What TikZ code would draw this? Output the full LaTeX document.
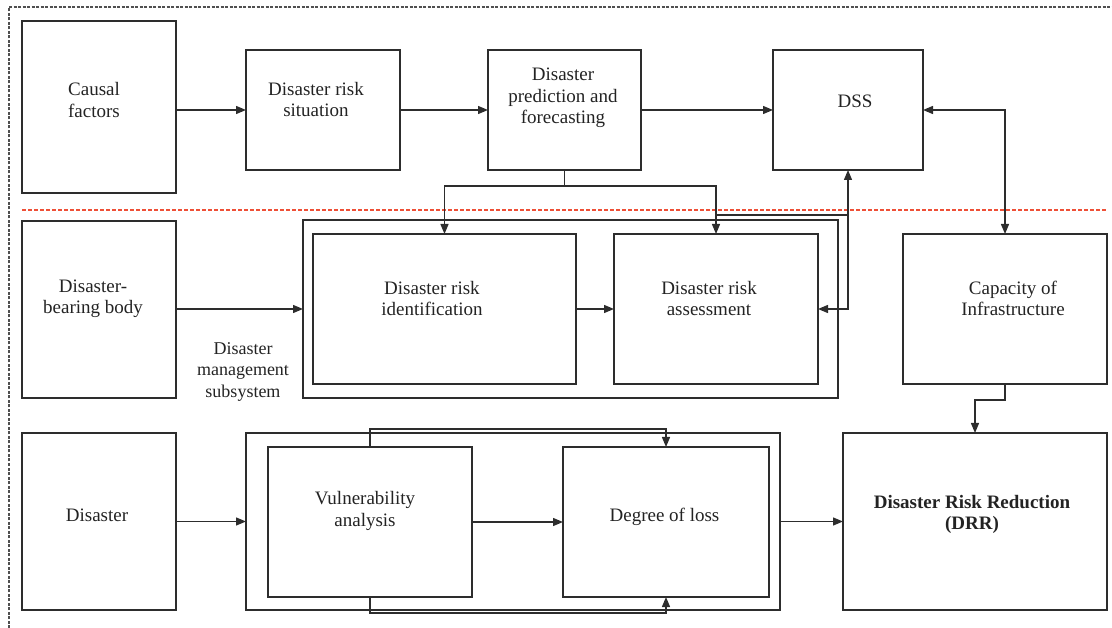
\documentclass[tikz,border=0pt]{standalone}
\usepackage{fontspec}
\setmainfont{Liberation Serif}
\usetikzlibrary{arrows.meta,calc}
\definecolor{LineGray}{RGB}{45,45,45}
\definecolor{FrameGray}{RGB}{80,80,80}
\definecolor{CutRed}{RGB}{238,80,55}
\definecolor{TextDark}{RGB}{35,35,35}
\tikzset{
  box/.style={draw=LineGray, line width=1.2pt, inner sep=0pt, outer sep=0pt},
  txt/.style={text=TextDark, align=center, inner sep=0pt, font=\fontsize{19}{21.5}\selectfont},
  link/.style={draw=LineGray, line width=1.3pt},
}

\begin{document}
\begin{tikzpicture}[x=1pt,y=-1pt,>={Triangle[length=10pt,width=8pt]}]
\useasboundingbox (0,0) rectangle (1112,628);

% outer frame and the cut line
\draw[FrameGray, line width=1.2pt, dash pattern=on 3pt off 1.5pt] (9,628) -- (9,7) -- (1112,7);
\draw[CutRed, line width=1.3pt, dash pattern=on 4pt off 2pt] (22,210) -- (1107,210);

% top row
\node[box, minimum width=154pt, minimum height=172pt] (causal) at (99,107) {};
\node[txt] (causal-txt) at (94,100) {Causal\\factors};

\node[box, minimum width=154pt, minimum height=120pt] (situation) at (323,110) {};
\node[txt] (situation-txt) at (316,99.5) {Disaster risk\\situation};

\node[box, minimum width=153pt, minimum height=120pt] (predict) at (564.5,110) {};
\node[txt] (predict-txt) at (563,98) {Disaster\\prediction and\\forecasting};

\node[box, minimum width=150pt, minimum height=120pt] (dss) at (848,110) {};
\node[txt] (dss-txt) at (855,101) {DSS};

% middle row
\node[box, minimum width=154pt, minimum height=177pt] (bearing) at (99,309.5) {};
\node[txt] (bearing-txt) at (93,299) {Disaster-\\bearing body};

\node[box, minimum width=535pt, minimum height=178pt] (subsys) at (570.5,309) {};
\node[txt, font=\fontsize{18}{21.5}\selectfont] (subsys-txt) at (243,371.5) {Disaster\\management\\subsystem};

\node[box, minimum width=263pt, minimum height=150pt] (ident) at (444.5,309) {};
\node[txt] (ident-txt) at (432,298.5) {Disaster risk\\identification};

\node[box, minimum width=204pt, minimum height=150pt] (assess) at (716,309) {};
\node[txt] (assess-txt) at (709,298.5) {Disaster risk\\assessment};

\node[box, minimum width=204pt, minimum height=150pt] (capacity) at (1005,309) {};
\node[txt] (capacity-txt) at (1013,298.5) {Capacity of\\Infrastructure};

% bottom row
\node[box, minimum width=154pt, minimum height=177pt] (disaster) at (99,521.5) {};
\node[txt] (disaster-txt) at (97,515) {Disaster};

\node[box, minimum width=534pt, minimum height=177pt] (lossbox) at (513,521.5) {};

\node[box, minimum width=204pt, minimum height=150pt] (vuln) at (370,522) {};
\node[txt] (vuln-txt) at (365,511) {Vulnerability\\analysis};

\node[box, minimum width=206pt, minimum height=150pt] (degree) at (666,522) {};
\node[txt] (degree-txt) at (664.5,516.5) {Degree of loss};

\node[box, minimum width=264pt, minimum height=177pt] (drr) at (975,521.5) {};
\node[txt, font=\bfseries\fontsize{19}{21.5}\selectfont] (drr-txt) at (972,514.5) {Disaster Risk Reduction\\(DRR)};

% connectors
\draw[link,->] (causal.east |- situation.west) -- (situation.west);
\draw[link,->] (situation) -- (predict);
\draw[link,->] (predict) -- (dss);
\draw[link,<->] (dss.east) -| (capacity.north);

\coordinate (fork) at ($(predict.south)+(0,16)$);
\draw[link] (predict.south) -- (fork);
\draw[link,->] (fork) -| (ident.north);
\draw[link,->] (fork) -| (assess.north);
\draw[link,<->] (assess.east) -| (dss.south);
\coordinate (tie) at (assess.north |- 0,215);
\draw[link] (tie) -- (tie -| dss.south);

\draw[link,->] (bearing.east |- subsys.west) -- (subsys.west);
\draw[link,->] (ident) -- (assess);
\draw[link,->] (capacity.south) -- ++(0,16) -| (drr.north);

\draw[link,->] (disaster) -- (lossbox);
\draw[link,->] (vuln) -- (degree);
\draw[link,->] (lossbox) -- (drr);
\draw[link,->] (vuln.north) -- ++(0,-18) -| (degree.north);
\draw[link,->] (vuln.south) -- ++(0,16) -| (degree.south);

\end{tikzpicture}
\end{document}
